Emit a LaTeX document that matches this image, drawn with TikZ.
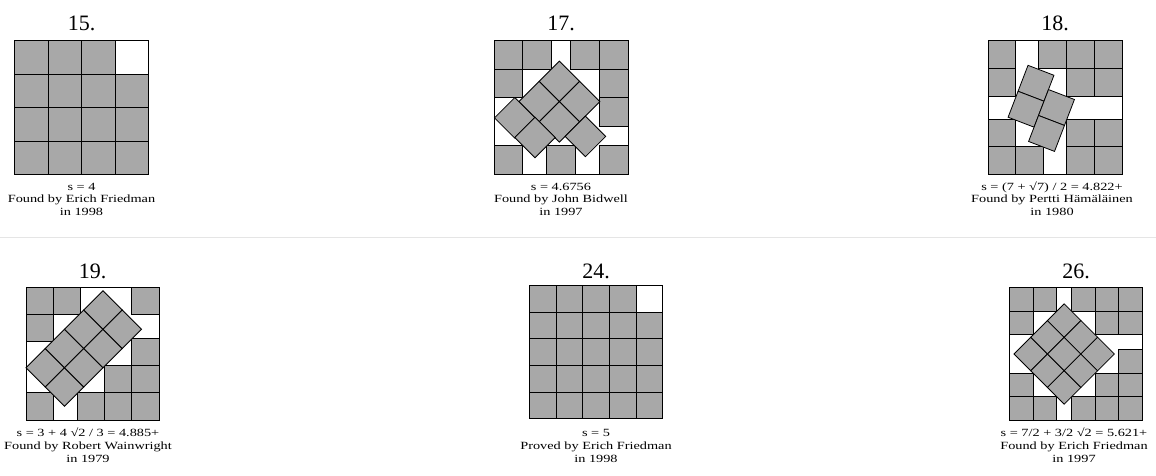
\documentclass[tikz,border=0pt]{standalone}
\usepackage{fontspec}
\setmainfont{Liberation Serif}
\newfontfamily\capfont[FakeStretch=1.3]{Liberation Serif}
\definecolor{sqgray}{RGB}{168,168,168}
\tikzset{
  sq/.style={fill=sqgray, draw=black, line width=0.8pt, line join=miter},
  box/.style={draw=black, line width=0.9pt},
  sepline/.style={draw=black!10, line width=1pt},
  ttl/.style={font=\fontsize{22}{24}\selectfont, anchor=base, inner sep=0pt},
  captxt/.style={font=\capfont\fontsize{11}{13}\selectfont, anchor=base, inner sep=0pt},
}
\newcommand\asq[2]{\filldraw[sq] (#1,#2) rectangle ++(1,1);}
\newcommand\tsq[3]{\filldraw[sq] (#1,#2) -- ++(#3:1) -- ++(#3-90:1) -- ++(#3+180:1) -- cycle;}
\begin{document}
\begin{tikzpicture}[x=1pt,y=-1pt]
\useasboundingbox (0,0) rectangle (1156,475);
\fill[white] (0,0) rectangle (1156,475);
\draw[sepline] (0,237) -- (1156,237);

% ---------- 15 ----------
\begin{scope}[shift={(14.5pt,-174.5pt)}, x=33.5pt, y=33.5pt]
  \foreach \i in {0,1,2,3}{\foreach \j in {0,1,2}{\asq{\i}{\j}}}
  \foreach \i in {0,1,2}{\asq{\i}{3}}
  \draw[box] (0,0) rectangle (4,4);
\end{scope}
\node[ttl] (t15) at (81.5,30) {15.};
\node[captxt] (c15a) at (81.5,190) {s = 4};
\node[captxt] (c15b) at (81.5,202.5) {Found by Erich Friedman};
\node[captxt] (c15c) at (81.5,215) {in 1998};

% ---------- 17 ----------
\begin{scope}[shift={(494pt,-174.5pt)}, x=28.66pt, y=28.66pt]
  \def\s{4.6756}
  \asq{0}{\s-1}\asq{1}{\s-1}\asq{\s-2}{\s-1}\asq{\s-1}{\s-1}
  \asq{0}{\s-2}
  \asq{\s-1}{\s-2}\asq{\s-1}{\s-3}
  \asq{0}{0}\asq{1.83}{0}\asq{\s-1}{0}
  \tsq{2.28}{3.957}{-45}
  \tsq{1.573}{3.250}{-45}
  \tsq{2.987}{3.250}{-45}
  \tsq{0.725}{2.684}{-45}
  \tsq{2.28}{2.543}{-45}
  \tsq{1.43}{1.997}{-45}
  \tsq{3.19}{2.037}{-45}
  \draw[box] (0,0) rectangle (\s,\s);
\end{scope}
\node[ttl] (t17) at (561,30) {17.};
\node[captxt] (c17a) at (561,190) {s = 4.6756};
\node[captxt] (c17b) at (561,202.5) {Found by John Bidwell};
\node[captxt] (c17c) at (561,215) {in 1997};

% ---------- 18 ----------
\begin{scope}[shift={(988pt,-174.5pt)}, x=27.78pt, y=27.78pt]
  \def\s{4.8229}
  \asq{0}{\s-1}\asq{0}{\s-2}
  \asq{\s-3}{\s-1}\asq{\s-2}{\s-1}\asq{\s-2}{\s-2}
  \asq{\s-1}{\s-1}\asq{\s-1}{\s-2}
  \asq{0}{1}\asq{\s-2}{1}\asq{\s-1}{1}
  \asq{0}{0}\asq{1}{0}\asq{\s-2}{0}\asq{\s-1}{0}
  \tsq{1.44}{3.93}{-21}
  \tsq{1.082}{2.996}{-21}
  \tsq{2.177}{3.058}{-21}
  \tsq{1.819}{2.124}{-21}
  \draw[box] (0,0) rectangle (\s,\s);
\end{scope}
\node[ttl] (t18) at (1055,30) {18.};
\node[captxt] (c18a) at (1052,190) {s = (7 + \symbol{"221A}7) / 2 = 4.822+};
\node[captxt] (c18b) at (1052,202.5) {Found by Pertti Hämäläinen};
\node[captxt] (c18c) at (1052,215) {in 1980};

% ---------- 19 ----------
\begin{scope}[shift={(26pt,-420pt)}, x=27.22pt, y=27.22pt]
  \def\s{4.8856}
  \asq{0}{\s-1}\asq{1}{\s-1}\asq{\s-1}{\s-1}
  \asq{0}{\s-2}
  \asq{\s-1}{1}\asq{\s-1}{2}\asq{\s-2}{1}
  \asq{0}{0}\asq{\s-3}{0}\asq{\s-2}{0}\asq{\s-1}{0}
  \foreach \i in {0,1,2,3}{\foreach \j in {0,1}{%
    \tsq{0.7071*\i+0.7071*\j}{1.92+0.7071*\i-0.7071*\j}{45}}}
  \draw[box] (0,0) rectangle (\s,\s);
\end{scope}
\node[ttl] (t19) at (92.5,278) {19.};
\node[captxt] (c19a) at (88,436) {s = 3 + 4 \symbol{"221A}2 / 3 = 4.885+};
\node[captxt] (c19b) at (88,449) {Found by Robert Wainwright};
\node[captxt] (c19c) at (88,462) {in 1979};

% ---------- 24 ----------
\begin{scope}[shift={(529.5pt,-418.5pt)}, x=26.6pt, y=26.6pt]
  \foreach \i in {0,...,4}{\foreach \j in {0,...,3}{\asq{\i}{\j}}}
  \foreach \i in {0,...,3}{\asq{\i}{4}}
  \draw[box] (0,0) rectangle (5,5);
\end{scope}
\node[ttl] (t24) at (596,278) {24.};
\node[captxt] (c24a) at (596,436) {s = 5};
\node[captxt] (c24b) at (596,449) {Proved by Erich Friedman};
\node[captxt] (c24c) at (596,462) {in 1998};

% ---------- 26 ----------
\begin{scope}[shift={(1009.5pt,-420.5pt)}, x=23.66pt, y=23.66pt]
  \def\s{5.6213}
  \asq{0}{\s-1}\asq{1}{\s-1}\asq{\s-3}{\s-1}\asq{\s-2}{\s-1}\asq{\s-1}{\s-1}
  \asq{0}{\s-2}\asq{\s-2}{\s-2}\asq{\s-1}{\s-2}
  \asq{\s-1}{2}
  \asq{0}{1}\asq{\s-2}{1}\asq{\s-1}{1}
  \asq{0}{0}\asq{1}{0}\asq{\s-3}{0}\asq{\s-2}{0}\asq{\s-1}{0}
  \foreach \i in {0,1,2}{\foreach \j in {0,1,2}{%
    \tsq{0.1894+0.7071*\i+0.7071*\j}{2.8107+0.7071*\i-0.7071*\j}{45}}}
  \draw[box] (0,0) rectangle (\s,\s);
\end{scope}
\node[ttl] (t26) at (1076,278) {26.};
\node[captxt] (c26a) at (1074,436) {s = 7/2 + 3/2 \symbol{"221A}2 = 5.621+};
\node[captxt] (c26b) at (1074,449) {Found by Erich Friedman};
\node[captxt] (c26c) at (1074,462) {in 1997};
\end{tikzpicture}
\end{document}
